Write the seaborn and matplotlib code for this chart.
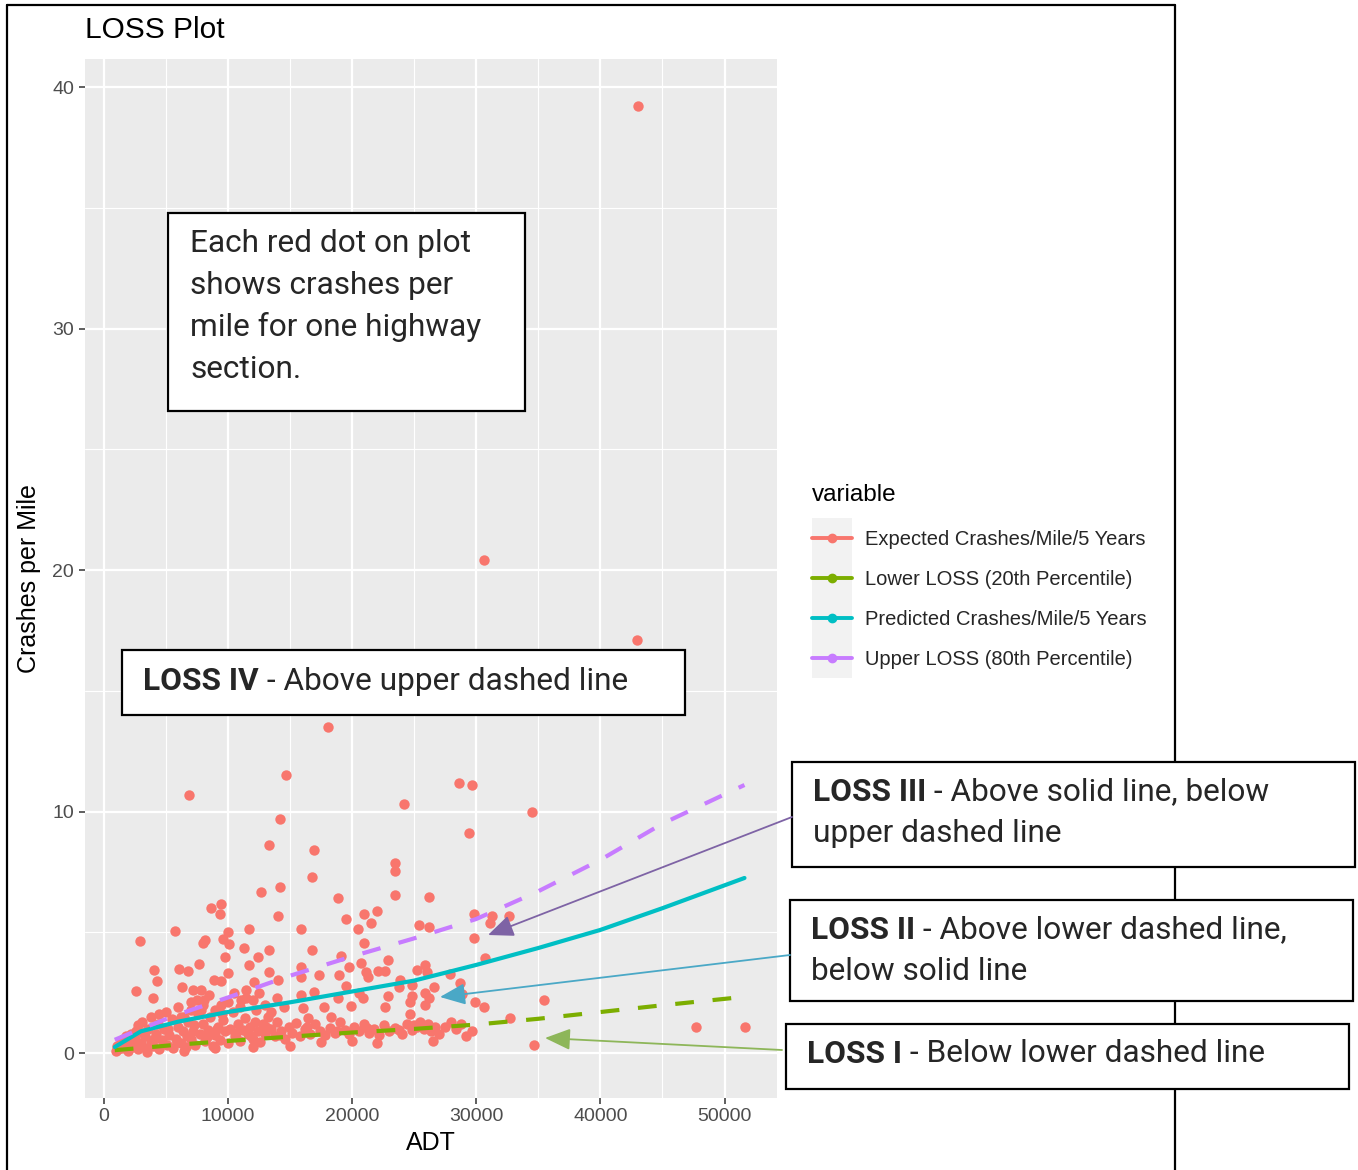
import numpy as np
import pandas as pd
import matplotlib
matplotlib.use("Agg")
import matplotlib.pyplot as plt
import seaborn as sns
from matplotlib.patches import Rectangle, FancyArrowPatch
from matplotlib.lines import Line2D

# ---------------- data ----------------
# scattered sections (ADT, crashes per mile)
adt_scatter = [43050, 30620, 42970, 18100, 14700, 6870, 28600, 29650, 24150, 34500,
               14180, 29400, 13330, 16960, 23430, 23430, 16800, 12680, 14220, 23430,
               26170, 18900, 8640, 9450, 9370, 14050, 21000, 22050, 19550, 29800,
               31260, 32640, 2910, 5740, 10020, 11710, 15910, 8000, 8160, 9610,
               10100, 11310, 13330, 16800, 9770, 12440, 11710, 7670, 4040, 6060,
               6790, 15910, 13330, 10020, 4280, 8890, 9450, 14050, 15910, 17370,
               2590, 6300, 7190, 7840, 11470, 12120, 15910, 16960, 3960, 7030,
               8080, 9450, 11070, 12280, 7840, 6220, 3800, 2750, 16070, 16480,
               17770, 18340, 21570, 20520, 25360, 26170, 31100, 29810, 21000, 19150,
               20760, 22860, 19790, 21160, 22130, 22620, 21330, 18980, 25200, 25850,
               26010, 27870, 30700, 23830, 23750, 24800, 26580, 28680, 19550, 18900,
               20600, 20920, 22860, 24800, 25850, 26170, 28840, 24640, 19950, 22620,
               25850, 29890, 30620, 35460, 24640, 32720, 29650, 34650, 47660, 51620]
crash_scatter = [39.2, 20.4, 17.1, 13.5, 11.5, 10.7, 11.2, 11.1, 10.3, 10.0,
                 9.7, 9.1, 8.6, 8.4, 7.87, 7.54, 7.3, 6.67, 6.87, 6.54,
                 6.46, 6.42, 6.0, 6.17, 5.76, 5.67, 5.76, 5.88, 5.55, 5.76,
                 5.67, 5.67, 4.64, 5.05, 5.01, 5.13, 5.13, 4.55, 4.7, 4.72,
                 4.51, 4.35, 4.27, 4.27, 3.98, 3.98, 3.64, 3.69, 3.44, 3.48,
                 3.4, 3.56, 3.35, 3.31, 2.98, 3.02, 2.98, 3.02, 3.15, 3.23,
                 2.57, 2.73, 2.61, 2.61, 2.61, 2.94, 2.4, 2.53, 2.28, 2.11,
                 2.19, 1.99, 2.19, 1.78, 1.78, 1.49, 1.49, 1.16, 1.86, 1.45,
                 1.9, 1.49, 5.38, 5.13, 5.3, 5.22, 5.38, 4.76, 4.55, 4.02,
                 3.73, 3.85, 3.56, 3.35, 3.4, 3.4, 3.15, 3.23, 3.44, 3.64,
                 3.35, 3.27, 3.93, 3.02, 2.73, 2.82, 2.73, 2.9, 2.77, 2.28,
                 2.48, 2.28, 2.36, 2.36, 2.48, 2.28, 2.44, 2.11, 1.95, 1.9,
                 1.99, 2.11, 1.9, 2.19, 1.61, 1.45, 0.91, 0.33, 1.08, 1.08]
# dense band of sections near the bottom
adt_band = [1000, 1100, 1200, 1400, 1500, 1700, 1800, 2000, 2100, 2300,
            2500, 2600, 2800, 3000, 3100, 3300, 3500, 3600, 3800, 4000,
            4200, 4400, 4500, 4700, 4900, 5100, 5300, 5500, 5600, 5800,
            6000, 6200, 6400, 6600, 6800, 7000, 7200, 7400, 7600, 7800,
            8000, 8200, 8400, 8600, 8800, 9000, 9200, 9400, 9600, 9800,
            10000, 10200, 10400, 10600, 10800, 11000, 11200, 11400, 11600, 11800,
            12000, 12200, 12400, 12600, 12800, 13000, 13200, 13500, 13800, 14000,
            14300, 14600, 14900, 15200, 15500, 15800, 16200, 16600, 17000, 17400,
            17800, 18200, 18600, 19000, 19400, 19800, 20200, 20600, 21000, 21400,
            21800, 22200, 22600, 23000, 23500, 24000, 24400, 24800, 25200, 25500,
            25800, 26100, 26400, 26700, 27000, 28000, 28400, 28800, 29200, 15000,
            20000, 12000, 9000, 6500, 3500, 17500, 22000, 26500, 5000, 6000,
            7000, 8000, 9000, 10000, 11000, 12000, 13000, 14000, 8500, 10500,
            12500, 9500, 7500, 13500, 14500, 11500, 6500, 4500, 2200, 1600,
            2400, 3200, 4100, 5200, 5900, 6700, 7300, 8300, 9100, 10700,
            11900, 13100, 14200, 16400, 18800, 21200, 23800, 25000, 26300, 27500]
crash_band = [0.1, 0.3, 0.15, 0.5, 0.2, 0.35, 0.7, 0.1, 0.45, 0.25,
              0.6, 0.9, 0.15, 0.4, 1.3, 0.7, 0.2, 1.0, 0.5, 0.3,
              0.8, 1.2, 0.15, 0.55, 1.0, 0.35, 0.75, 1.4, 0.2, 0.6,
              1.1, 0.4, 0.9, 0.25, 1.3, 0.6, 0.9, 0.35, 1.6, 0.8,
              1.2, 0.5, 0.95, 1.5, 0.3, 0.75, 1.1, 0.55, 1.35, 0.9,
              0.4, 1.0, 1.7, 0.7, 1.2, 0.5, 0.95, 1.45, 0.8, 1.1,
              0.6, 1.3, 0.9, 0.45, 1.2, 0.8, 1.5, 1.0, 0.7, 1.3,
              0.9, 0.6, 1.1, 0.85, 1.25, 0.7, 1.0, 0.8, 1.2, 0.9,
              0.75, 1.05, 0.85, 1.3, 0.95, 0.8, 1.1, 0.9, 1.2, 0.85,
              1.0, 0.75, 1.15, 0.9, 1.05, 0.8, 1.2, 0.95, 1.1, 1.3,
              1.0, 1.2, 0.9, 1.1, 0.8, 1.3, 1.0, 1.2, 0.7, 0.3,
              0.5, 0.25, 0.2, 0.1, 0.05, 0.45, 0.4, 0.5, 1.7, 1.9,
              1.8, 2.0, 1.8, 2.1, 1.9, 2.2, 2.0, 2.3, 2.4, 2.5,
              2.5, 1.6, 2.2, 1.7, 1.9, 2.3, 1.5, 1.6, 0.8, 0.6,
              0.35, 0.85, 0.6, 1.0, 0.45, 0.7, 1.15, 0.65, 1.0, 0.85,
              0.7, 1.1, 0.75, 1.1, 0.9, 1.05, 0.95, 1.15, 1.0, 1.1]

# model lines
line_adt = [900, 3000, 6000, 10000, 15000, 20000, 25000, 30000, 35000, 40000, 45000, 51600]
lower_loss = [0.12, 0.21, 0.35, 0.5, 0.68, 0.85, 1.0, 1.18, 1.42, 1.7, 1.98, 2.33]
predicted = [0.25, 0.9, 1.3, 1.7, 2.1, 2.55, 3.0, 3.65, 4.35, 5.1, 6.0, 7.25]
upper_loss = [0.55, 1.0, 1.6, 2.3, 3.2, 4.0, 4.75, 5.55, 6.7, 8.0, 9.5, 11.1]

series_names = ["Expected Crashes/Mile/5 Years", "Lower LOSS (20th Percentile)",
                "Predicted Crashes/Mile/5 Years", "Upper LOSS (80th Percentile)"]
series_colors = ["#F8766D", "#7CAE00", "#00BFC4", "#C77CFF"]

x_ticks = [0, 10000, 20000, 30000, 40000, 50000]
y_ticks = [0, 10, 20, 30, 40]

# ---------------- figure ----------------
W, H = 1358, 1170
def fx(x): return x / W
def fy(y): return 1 - y / H

sns.set_theme(style="darkgrid")
plt.rcParams['font.family'] = ['Liberation Sans', 'DejaVu Sans']

fig = plt.figure(figsize=(W / 100, H / 100), dpi=100, facecolor="white")
ax = fig.add_axes([84.5 / W, (H - 1098) / H, 692.7 / W, 1039 / H])
ax.set_facecolor("#EBEBEB")

pts = pd.DataFrame({"ADT": adt_scatter + adt_band, "Crashes": crash_scatter + crash_band})
sns.scatterplot(data=pts, x="ADT", y="Crashes", color=series_colors[0], s=56,
                linewidth=0, ax=ax, legend=False, zorder=2)

lines = pd.DataFrame({
    "ADT": line_adt * 3,
    "value": lower_loss + predicted + upper_loss,
    "variable": [series_names[1]] * len(line_adt) + [series_names[2]] * len(line_adt)
                + [series_names[3]] * len(line_adt),
})
sns.lineplot(data=lines, x="ADT", y="value", hue="variable", style="variable",
             palette={series_names[1]: series_colors[1], series_names[2]: series_colors[2],
                      series_names[3]: series_colors[3]},
             dashes={series_names[1]: (4.5, 4.5), series_names[2]: "",
                     series_names[3]: (4.5, 4.5)},
             linewidth=3.0, errorbar=None, ax=ax, legend=False, zorder=3)

ax.set_xlim(-1535, 54235)
ax.set_ylim(-1.86, 41.16)
ax.set_xticks(x_ticks)
ax.set_xticklabels([str(v) for v in x_ticks])
ax.set_yticks(y_ticks)
ax.set_xticks([5000, 15000, 25000, 35000, 45000], minor=True)
ax.set_yticks([5, 15, 25, 35], minor=True)
ax.grid(which="major", color="white", linewidth=1.6)
ax.grid(which="minor", color="white", linewidth=0.8)
ax.set_axisbelow(True)
for s in ax.spines.values():
    s.set_visible(False)
ax.tick_params(axis="both", which="major", length=4.5, width=1.1, color="#333333",
               labelsize=14, labelcolor="#4D4D4D", pad=3, bottom=True, left=True)
ax.tick_params(axis="both", which="minor", length=0)
ax.set_xlabel("ADT", fontsize=18, color="black", labelpad=4)
ax.set_ylabel("Crashes per Mile", fontsize=18, color="black", labelpad=8)

fig.text(fx(85), fy(30), "LOSS Plot", fontsize=21.5, color="black", va="center", ha="left")

# legend
fig.text(fx(812), fy(495), "variable", fontsize=17.5, color="black", va="center", ha="left")
fig.patches.append(Rectangle((fx(812), fy(678)), 40 / W, 160 / H, transform=fig.transFigure,
                             facecolor="#F2F2F2", edgecolor="none", zorder=1))
handles = [Line2D([], [], color=c, marker="o", markersize=6, lw=2.8) for c in series_colors]
leg = fig.legend(handles, series_names, loc="upper left", bbox_to_anchor=(fx(812), fy(530)),
                 frameon=False, fontsize=14.5, handlelength=2.0, handletextpad=0.62,
                 labelspacing=1.04, borderaxespad=0, borderpad=0)
leg.set_zorder(2)

# outer frame
for (x1, y1, x2, y2) in [(7, 5, 7, 1170), (7, 5, 1175, 5), (1175, 5, 1175, 1170)]:
    fig.add_artist(Line2D([fx(x1), fx(x2)], [fy(y1), fy(y2)], transform=fig.transFigure,
                          color="black", lw=1.6, zorder=3))

# annotation boxes
def box(x1, y1, x2, y2):
    fig.add_artist(Rectangle((fx(x1), fy(y2)), (x2 - x1) / W, (y2 - y1) / H,
                             transform=fig.transFigure, facecolor="white",
                             edgecolor="black", lw=1.6, zorder=4))

box_font = ["Roboto", "DejaVu Sans"]
bsize = 22.8
renderer = fig.canvas.get_renderer()

def mixed(x, y, bold, rest):
    t1 = fig.text(fx(x), fy(y), bold, fontsize=bsize, fontweight="bold", family=box_font,
                  va="center", ha="left", zorder=6)
    bb = t1.get_window_extent(renderer)
    fig.text(bb.x1 / W, fy(y), rest, fontsize=bsize, family=box_font,
             va="center", ha="left", zorder=6)

def plain(x, y, s):
    fig.text(fx(x), fy(y), s, fontsize=bsize, family=box_font, va="center", ha="left", zorder=6)

box(168, 213, 525, 411)
for yy, s in zip([244, 285, 327, 369], ["Each red dot on plot", "shows crashes per",
                                          "mile for one highway", "section."]):
    plain(190, yy, s)

box(122, 650, 685, 715)
mixed(143, 681, "LOSS IV", " - Above upper dashed line")

box(792, 762, 1355, 867)
mixed(813, 792, "LOSS III", " - Above solid line, below")
plain(813, 834, "upper dashed line")

box(790, 900, 1353, 1001)
mixed(811, 930, "LOSS II", " - Above lower dashed line,")
plain(811, 972, "below solid line")

box(786, 1024, 1349, 1089)
mixed(807, 1054, "LOSS I", " - Below lower dashed line")

# arrows
for (x1, y1, x2, y2, c) in [(792, 817, 488, 935, "#7E63A5"),
                            (790, 955, 440, 997, "#4AA8C6"),
                            (782, 1050, 545, 1038, "#8DB659")]:
    fig.add_artist(FancyArrowPatch((fx(x1), fy(y1)), (fx(x2), fy(y2)),
                                   transform=fig.transFigure,
                                   arrowstyle="-|>,head_length=1.3,head_width=0.55",
                                   mutation_scale=12, lw=1.3, color=c,
                                   shrinkA=0, shrinkB=0, zorder=5))

fig.savefig("out.png", dpi=100, facecolor="white")
